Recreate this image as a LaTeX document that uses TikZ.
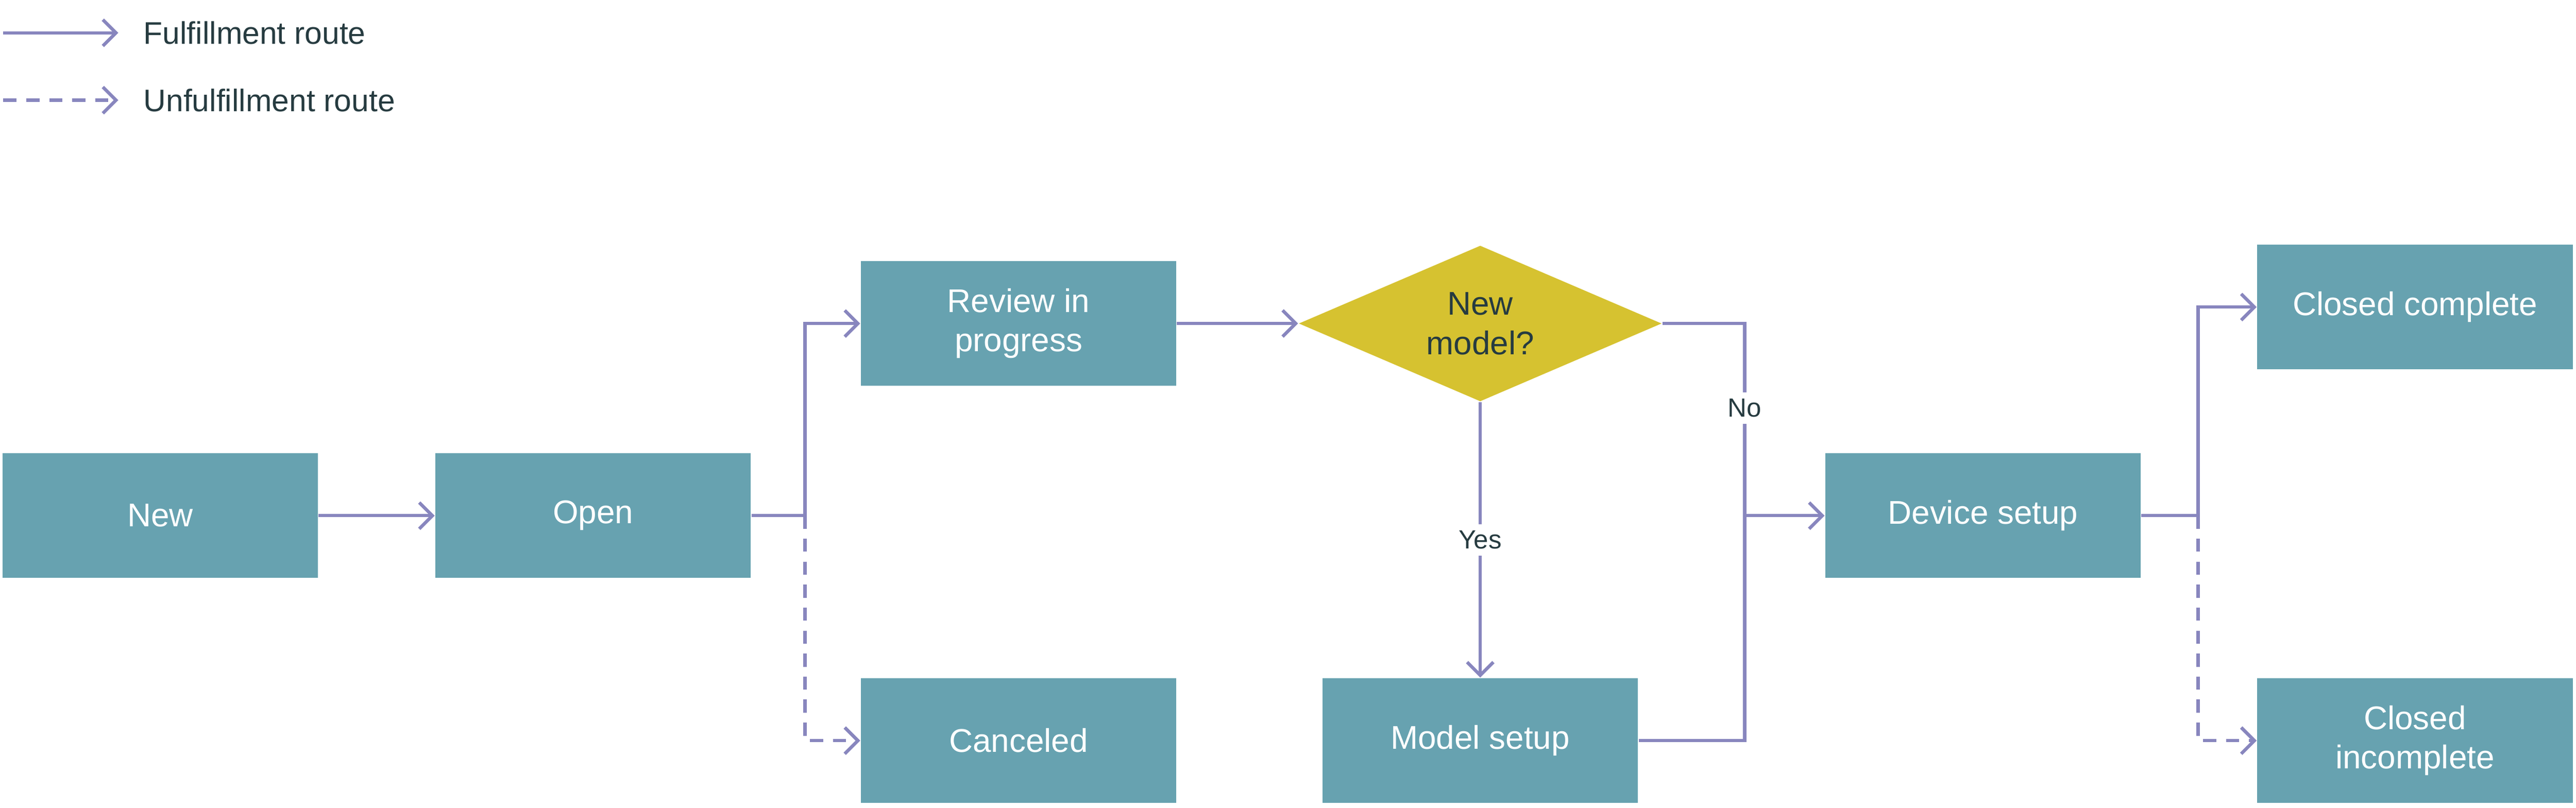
\documentclass[tikz,border=0pt]{standalone}
\usepackage{fontspec}
\setmainfont{Liberation Sans}
\usetikzlibrary{arrows.meta,shapes.geometric}
\definecolor{boxteal}{HTML}{67A2B0}
\definecolor{decgold}{HTML}{D6C230}
\definecolor{routeviolet}{HTML}{8886BE}
\definecolor{inkdark}{HTML}{263B40}
\tikzset{
  state/.style={rectangle, fill=boxteal, text=white, minimum width=96pt, minimum height=38pt,
    inner sep=0pt, align=center, font=\fontsize{10}{12}\selectfont},
  decision/.style={diamond, fill=decgold, text=inkdark, minimum width=110.5pt, minimum height=47.5pt,
    shape aspect=2.33, inner sep=0pt, align=center, font=\fontsize{10}{12}\selectfont},
  route/.style={draw=routeviolet, line width=1pt, -{Straight Barb[length=4pt,width=8pt]}},
  unroute/.style={route, dash pattern=on 4pt off 3pt},
  edgelabel/.style={fill=white, text=inkdark, inner sep=2pt, font=\fontsize{8}{10}\selectfont},
  legendtext/.style={anchor=west, text=inkdark, inner sep=0pt, font=\fontsize{9.5}{11}\selectfont}
}

\begin{document}
\begin{tikzpicture}[x=0.5pt,y=0.5pt,yscale=-1]
\useasboundingbox (0,0) rectangle (1568,492);

% Legend
\coordinate (fulA) at (2,20);
\coordinate (fulB) at (72,20);
\coordinate (unfA) at (2,61);
\coordinate (unfB) at (72,61);
\draw[route] (fulA) -- (fulB);
\draw[unroute] (unfA) -- (unfB);
\node (fultext) [legendtext] at (87,20) {Fulfillment route};
\node (unftext) [legendtext] at (87,61) {Unfulfillment route};

% States
\node (new) [state] at (97.5,314) {New};
\node (open) [state] at (361,314) {Open};
\node (review) [state] at (620,197) {Review in\\progress};
\node (canceled) [state] at (620,451) {Canceled};
\node (newmodel) [decision] at (901,197) {New\\model?};
\node (modelsetup) [state] at (901,451) {Model setup};
\node (devicesetup) [state] at (1207,314) {Device setup};
\node (closedc) [state] at (1470,187) {Closed complete};
\node (closedi) [state] at (1470,451) {Closed\\incomplete};

% Junctions
\coordinate (splitopen) at (490,314);
\coordinate (joinno) at (1062,314);
\coordinate (splitdev) at (1338,314);

% Routes
\draw[route] (new) -- (open);
\draw[route, -] (open) -- (splitopen);
\draw[route] (splitopen) |- (review);
\draw[unroute] (splitopen) |- (canceled);
\draw[route] (review) -- (newmodel);
\draw[route] (newmodel) -- node[edgelabel] {Yes} (modelsetup);
\draw[route, -] (newmodel.east) -| node[edgelabel, pos=0.72] {No} (joinno);
\draw[route, -] (modelsetup) -| (joinno);
\draw[route] (joinno) -- (devicesetup);
\draw[route, -] (devicesetup) -- (splitdev);
\draw[route] (splitdev) |- (closedc);
\draw[unroute] (splitdev) |- (closedi);

\end{tikzpicture}
\end{document}
